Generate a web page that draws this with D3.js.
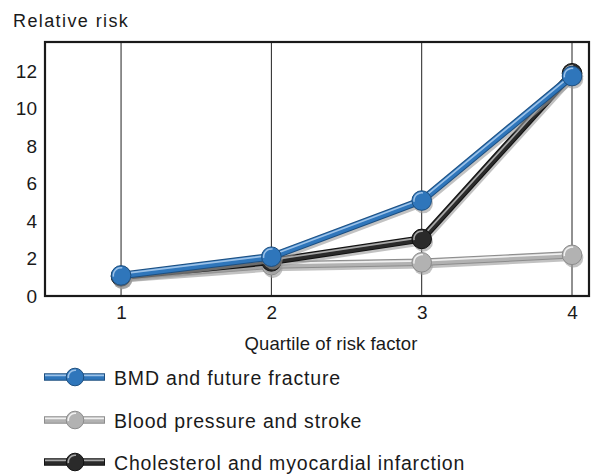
<!DOCTYPE html>
<html><head><meta charset="utf-8">
<script src="https://cdn.jsdelivr.net/npm/d3@7"></script>
<style>body{margin:0;background:#fff}svg{display:block;font-family:"Liberation Sans",Arial,sans-serif}</style>
</head><body><svg id="c" width="592" height="475"></svg>
<script>
const quartiles = [1, 2, 3, 4];
const yTicks = [0, 2, 4, 6, 8, 10, 12];
const bmdFracture = [1.1, 2.1, 5.1, 11.75];
const bpStroke = [1.05, 1.65, 1.8, 2.2];
const cholMI = [1.05, 1.85, 3.05, 11.9];
const seriesNames = ["BMD and future fracture", "Blood pressure and stroke", "Cholesterol and myocardial infarction"];

const series = [
  {name: seriesNames[0], values: bmdFracture, color: "#2f76bb", dark: "#1d4f80", light: "#9cc2e8"},
  {name: seriesNames[1], values: bpStroke, color: "#b2b2b2", dark: "#8c8c8c", light: "#f0f0f0"},
  {name: seriesNames[2], values: cholMI, color: "#2a2a2a", dark: "#111", light: "#a8a8a8"}
];

const svg = d3.select("#c");
const L = 45, R = 589, T = 42, B = 296;
const x = d3.scaleLinear().domain([0.494, 4.113]).range([L, R]);
const y = d3.scaleLinear().domain([0, 13.57]).range([B, T]);
const ink = "#1a1a1a";

// vertical grid lines
svg.append("g").selectAll("line").data(quartiles).join("line")
  .attr("x1", d => x(d)).attr("x2", d => x(d)).attr("y1", T).attr("y2", B)
  .attr("stroke", "#222").attr("stroke-width", 1);

// frame
svg.append("rect").attr("x", L).attr("y", T).attr("width", R - L).attr("height", B - T)
  .attr("fill", "none").attr("stroke", ink).attr("stroke-width", 2.2);

// axes
const xAxis = svg.append("g").attr("transform", `translate(0,${B})`)
  .call(d3.axisBottom(x).tickValues(quartiles).tickSize(0).tickPadding(10).tickFormat(d3.format("d")));
xAxis.select(".domain").remove();
xAxis.selectAll("text").attr("font-size", 19).attr("fill", ink).attr("font-family", "Liberation Sans, Arial, sans-serif");

const yAxis = svg.append("g").attr("transform", `translate(${L},0)`)
  .call(d3.axisLeft(y).tickValues(yTicks).tickSize(0).tickPadding(8));
yAxis.select(".domain").remove();
yAxis.selectAll("text").attr("font-size", 19).attr("fill", ink).attr("font-family", "Liberation Sans, Arial, sans-serif");

svg.append("text").attr("x", 13).attr("y", 27).attr("font-size", 18).attr("letter-spacing", 1.4)
  .attr("fill", ink).text("Relative risk");
svg.append("text").attr("x", 331).attr("y", 350).attr("text-anchor", "middle").attr("font-size", 18.5)
  .attr("letter-spacing", 0.1).attr("fill", ink).text("Quartile of risk factor");

const line = d3.line().x((d, i) => x(quartiles[i])).y(d => y(d));

// draw order: grey, black, blue
const order = [series[1], series[2], series[0]];
const gS = svg.append("g");
const MR = 9.8;
order.forEach(s => {
  const g = gS.append("g");
  // shadow
  g.append("path").attr("d", line(s.values)).attr("fill", "none")
    .attr("stroke", "#9a9a9a").attr("stroke-opacity", 0.6).attr("stroke-width", 6.5)
    .attr("stroke-linejoin", "round").attr("transform", "translate(1.5,3)");
  g.selectAll("circle.sh").data(s.values).join("circle").attr("class", "sh")
    .attr("cx", (d, i) => x(quartiles[i]) + 1.5).attr("cy", d => y(d) + 3).attr("r", MR)
    .attr("fill", "#9a9a9a").attr("fill-opacity", 0.6);
  // outline
  g.append("path").attr("d", line(s.values)).attr("fill", "none")
    .attr("stroke", s.dark).attr("stroke-width", 7.5).attr("stroke-linejoin", "round");
  g.append("path").attr("d", line(s.values)).attr("fill", "none")
    .attr("stroke", s.color).attr("stroke-width", 5.5).attr("stroke-linejoin", "round");
  g.append("path").attr("d", line(s.values)).attr("fill", "none")
    .attr("stroke", s.light).attr("stroke-width", 1.7).attr("stroke-linejoin", "round")
    .attr("transform", "translate(0,-1.5)");
  // markers
  g.selectAll("circle.m").data(s.values).join("circle").attr("class", "m")
    .attr("cx", (d, i) => x(quartiles[i])).attr("cy", d => y(d)).attr("r", MR)
    .attr("fill", s.color).attr("stroke", s.dark).attr("stroke-width", 1);
  const arc = d3.arc().innerRadius(MR - 2.8).outerRadius(MR - 1.3).startAngle(-Math.PI * 0.55).endAngle(Math.PI * 0.05);
  g.selectAll("path.hl").data(s.values).join("path").attr("class", "hl")
    .attr("d", arc())
    .attr("transform", (d, i) => `translate(${x(quartiles[i])},${y(d)})`)
    .attr("fill", s.light);
});

// legend
const legY = [377, 420, 462];
const lg = svg.append("g");
series.forEach((s, i) => {
  const g = lg.append("g").attr("transform", `translate(0,${legY[i]})`);
  g.append("line").attr("x1", 44).attr("x2", 105).attr("y1", 0).attr("y2", 0)
    .attr("stroke", s.dark).attr("stroke-width", 7.5);
  g.append("line").attr("x1", 45).attr("x2", 104).attr("y1", 0).attr("y2", 0)
    .attr("stroke", s.color).attr("stroke-width", 5.5);
  g.append("line").attr("x1", 45).attr("x2", 104).attr("y1", -1.6).attr("y2", -1.6)
    .attr("stroke", s.light).attr("stroke-width", 1.7);
  g.append("circle").attr("cx", 75).attr("cy", 0).attr("r", 8.8)
    .attr("fill", s.color).attr("stroke", s.dark).attr("stroke-width", 1);
  g.append("path").attr("d", d3.arc().innerRadius(6).outerRadius(7.6).startAngle(-Math.PI * 0.55).endAngle(Math.PI * 0.05)())
    .attr("transform", "translate(75,0)").attr("fill", s.light);
  g.append("text").attr("x", 114).attr("y", 8.2).attr("font-size", 19.5).attr("letter-spacing", 0.82)
    .attr("fill", ink).text(s.name);
});
</script></body></html>
